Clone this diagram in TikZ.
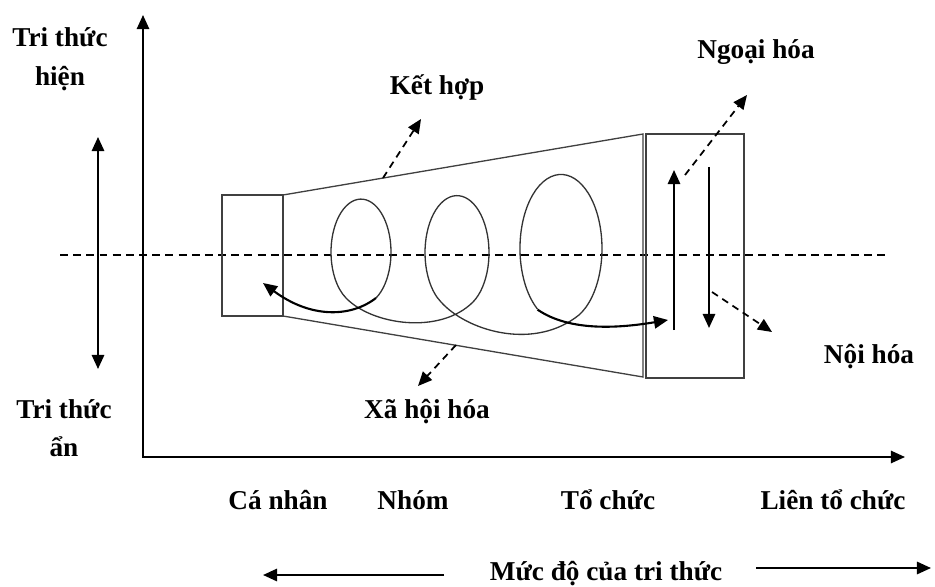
\documentclass[tikz,border=0pt]{standalone}
\usepackage{fontspec}
\setmainfont{Liberation Serif}
\usetikzlibrary{arrows.meta}

\tikzset{
  lbl/.style={font=\fontsize{15.5}{22}\selectfont\bfseries, align=center, inner sep=1pt},
  outline/.style={line width=0.75pt, black!75},
  axisline/.style={line width=1pt, black},
  divider/.style={line width=1pt, dash pattern={on 4.5pt off 3pt}},
  coil/.style={line width=0.75pt, black!80},
  tip/.style={-{Triangle[length=8pt,width=7pt]}},
  flowarr/.style={tip, line width=1.2pt},
  dasharr/.style={tip, line width=1pt, dash pattern={on 4pt off 3pt}},
}

\begin{document}
\begin{tikzpicture}[x=0.02cm, y=-0.02cm]
  \useasboundingbox (0,0) rectangle (935,587);

  % Axes
  \coordinate (origin) at (143,457);
  \coordinate (yTip) at (143,15);
  \coordinate (xTip) at (905,457);
  \draw[axisline, {Triangle[length=8pt,width=7pt]}-{Triangle[length=8pt,width=7pt]}] (yTip) -- (origin) -- (xTip);

  % Dashed divider between explicit and tacit knowledge
  \coordinate (divL) at (60,255);
  \coordinate (divR) at (888,255);
  \draw[divider] (divL) -- (divR);

  % Left double arrow
  \coordinate (upTip) at (98,137);
  \coordinate (downTip) at (98,369);
  \draw[flowarr, {Triangle[length=8pt,width=7pt]}-{Triangle[length=8pt,width=7pt]}] (upTip) -- (downTip);

  % Box, funnel and right box
  \coordinate (boxNW) at (222,195);
  \coordinate (boxSE) at (283,316);
  \coordinate (funNW) at (283,195);
  \coordinate (funNE) at (643,134);
  \coordinate (funSE) at (643,377);
  \coordinate (funSW) at (283,316);
  \coordinate (orgNW) at (646,134);
  \coordinate (orgSE) at (744,378);
  \draw[outline] (boxNW) rectangle (boxSE);
  \draw[outline] (funNW) -- (funNE) -- (funSE) -- (funSW);
  \draw[outline] (orgNW) rectangle (orgSE);

  % Coil of loops
  \coordinate (loopA) at (376,298);
  \coordinate (loopEnd) at (537.5,309.6);
  \draw[coil] (loopA) arc[start angle=60, end angle=-240, x radius=30, y radius=53]
    .. controls (372,325) and (440,335) .. (473,302)
    arc[start angle=60, end angle=-240, x radius=32, y radius=57]
    .. controls (466,330) and (530,350) .. (575,318)
    arc[start angle=70, end angle=-235, x radius=41, y radius=74];

  % Arrows leaving the coil
  \coordinate (leftTip) at (263,283);
  \coordinate (rightTip) at (668,320);
  \draw[flowarr] (loopA) .. controls (350,318) and (310,318) .. (leftTip);
  \draw[flowarr] (loopEnd) .. controls (570,332) and (620,328) .. (rightTip);

  % Arrows inside the right box
  \coordinate (upFrom) at (674,330);
  \coordinate (upTo) at (674,170);
  \coordinate (downFrom) at (709,167);
  \coordinate (downTo) at (709,328);
  \draw[flowarr] (upFrom) -- (upTo);
  \draw[flowarr] (downFrom) -- (downTo);

  % Dashed arrows to the four modes
  \coordinate (combFrom) at (383,178);
  \coordinate (combTo) at (421,119);
  \coordinate (socFrom) at (456,345);
  \coordinate (socTo) at (418,386);
  \coordinate (extFrom) at (685,175);
  \coordinate (extTo) at (747,95);
  \coordinate (intFrom) at (712,292);
  \coordinate (intTo) at (772,332);
  \draw[dasharr] (combFrom) -- (combTo);
  \draw[dasharr] (socFrom) -- (socTo);
  \draw[dasharr] (extFrom) -- (extTo);
  \draw[dasharr] (intFrom) -- (intTo);

  % Labels
  \node[lbl] (explicit) at (60,59) {Tri thức\\hiện};
  \node[lbl] (tacit) at (64,428) {Tri thức\\ẩn};
  \node[lbl] (ketHop) at (437,87) {Kết hợp};
  \node[lbl] (ngoaiHoa) at (756,52) {Ngoại hóa};
  \node[lbl] (xaHoiHoa) at (427,412) {Xã hội hóa};
  \node[lbl] (noiHoa) at (869,357) {Nội hóa};

  \node[lbl] (caNhan) at (278,500) {Cá nhân};
  \node[lbl] (nhom) at (413,500) {Nhóm};
  \node[lbl] (toChuc) at (608,500) {Tổ chức};
  \node[lbl] (lienToChuc) at (833,500) {Liên tổ chức};

  % Level of knowledge
  \node[lbl] (mucDo) at (606,574) {Mức độ của tri thức};
  \coordinate (levelL) at (263,575);
  \coordinate (levelR) at (931,568);
  \draw[flowarr] (444,575) coordinate (levelLFrom) -- (levelL);
  \draw[flowarr] (756,568) coordinate (levelRFrom) -- (levelR);
\end{tikzpicture}
\end{document}
